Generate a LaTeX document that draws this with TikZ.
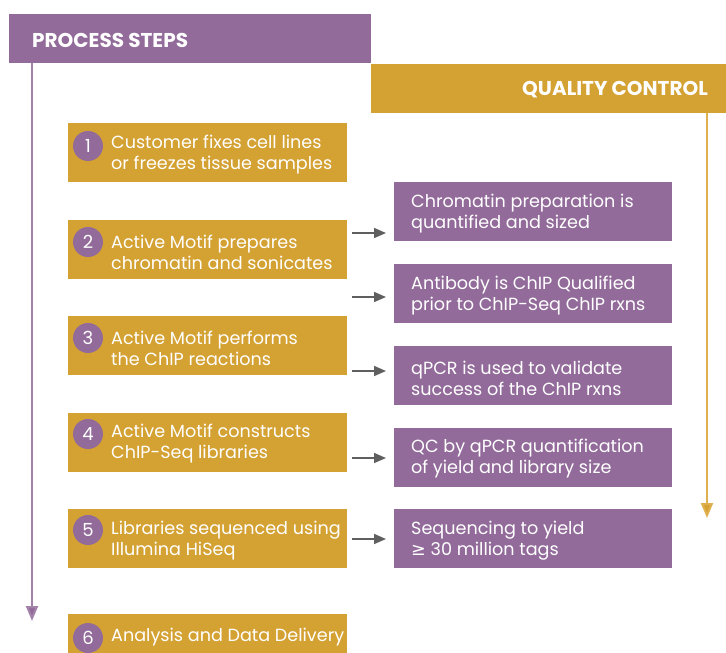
\documentclass[tikz,border=0pt]{standalone}
\usepackage{fontspec}
\setmainfont{Poppins}
\usetikzlibrary{arrows.meta,calc}
\definecolor{purp}{HTML}{926B9A}
\definecolor{purpline}{HTML}{A483AB}
\definecolor{gold}{HTML}{D4A133}
\definecolor{goldline}{HTML}{E0B04E}
\definecolor{arrgray}{HTML}{5F5F5F}
\begin{document}
\begin{tikzpicture}[x=1pt,y=-1pt,
  stepbox/.style={fill=gold,draw=none,minimum width=279pt,minimum height=59pt,anchor=north west,inner sep=0},
  qcbox/.style={fill=purp,draw=none,minimum width=278pt,minimum height=59pt,anchor=north west,inner sep=0},
  numc/.style={circle,fill=purp,text=white,minimum size=30pt,inner sep=0,font=\fontsize{18}{18}\selectfont},
  btxt/.style={text=white,anchor=west,align=left,inner sep=0,font=\fontsize{17.6}{21}\selectfont},
  arr/.style={draw=arrgray,line width=1.6pt,-{Triangle[length=12pt,width=10pt]}},
  hdr/.style={text=white,font=\fontsize{20}{20}\selectfont\bfseries,inner sep=0}]
\useasboundingbox (0,0) rectangle (726,653);
% headers
\node[fill=purp,minimum width=362pt,minimum height=49pt,anchor=north west,inner sep=0] (h1) at (9,14) {};
\node[hdr,anchor=west] (h1t) at (32,40) {PROCESS STEPS};
\node[fill=gold,minimum width=355pt,minimum height=49pt,anchor=north west,inner sep=0] (h2) at (371,64) {};
\node[hdr,anchor=east] (h2t) at (708,90) {QUALITY CONTROL};
% vertical lines
\coordinate (v1s) at (32,63);
\coordinate (v1e) at (32,621);
\draw[draw=purpline,line width=2pt,-{Triangle[length=15pt,width=12pt,fill=purp]}] (v1s) -- (v1e);
\coordinate (v2s) at (707,113);
\coordinate (v2e) at (707,518);
\draw[draw=goldline,line width=2pt,-{Triangle[length=15pt,width=12pt,fill=gold]}] (v2s) -- (v2e);
% step boxes
\node[stepbox] (s1) at (68,123) {};
\node[stepbox] (s2) at (68,220) {};
\node[stepbox] (s3) at (68,316) {};
\node[stepbox] (s4) at (68,413) {};
\node[stepbox] (s5) at (68,509) {};
\node[stepbox,minimum height=45pt] (s6) at (68,614) {};
% numbers
\node[numc] (n1) at (88,146) {1};
\node[numc] (n2) at (88,242) {2};
\node[numc] (n3) at (88,338) {3};
\node[numc] (n4) at (88,434) {4};
\node[numc] (n5) at (88,530) {5};
\node[numc] (n6) at (88,638) {6};
% step texts
\node[btxt] (t1) at (111,155) {Customer fixes cell lines\\or freezes tissue samples};
\node[btxt] (t2) at (111,252) {Active Motif prepares\\chromatin and sonicates};
\node[btxt] (t3) at (111,348) {Active Motif performs\\the ChIP reactions};
\node[btxt] (t4) at (111,444) {Active Motif constructs\\ChIP-Seq libraries};
\node[btxt] (t5) at (111,541) {Libraries sequenced using\\Illumina HiSeq};
\node[btxt] (t6) at (111,637) {Analysis and Data Delivery};
% QC boxes
\node[qcbox] (q1) at (394,182) {};
\node[qcbox] (q2) at (394,264) {};
\node[qcbox] (q3) at (394,346) {};
\node[qcbox] (q4) at (394,428) {};
\node[qcbox] (q5) at (394,509) {};
\node[btxt] (u1) at (411,214) {Chromatin preparation is\\quantified and sized};
\node[btxt] (u2) at (411,296) {Antibody is ChIP Qualified\\prior to ChIP-Seq ChIP rxns};
\node[btxt] (u3) at (411,378) {qPCR is used to validate\\success of the ChIP rxns};
\node[btxt] (u4) at (411,459) {QC by qPCR quantification\\of yield and library size};
\node[btxt] (u5) at (411,541) {Sequencing to yield\\{\fontspec{DejaVu Sans}≥} 30 million tags};
% arrows
\foreach \i/\y in {1/233,2/297,3/371,4/458,5/539}{
  \coordinate (a\i s) at (352,\y);
  \coordinate (a\i e) at (386,\y);
  \draw[arr] (a\i s) -- (a\i e);
}
\end{tikzpicture}
\end{document}
